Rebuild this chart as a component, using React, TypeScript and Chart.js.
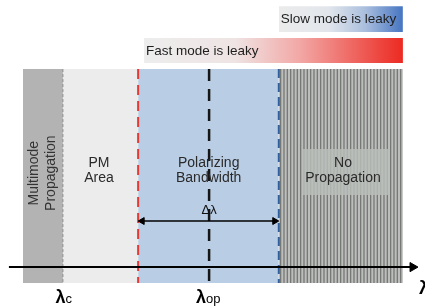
import React, { useEffect, useRef } from 'react';
import { Chart, registerables } from 'chart.js';

Chart.register(...registerables);

// ---- data (abstract wavelength units on x, abstract height units on y) ----
const regionLabels: string[][] = [
  ['Multimode', 'Propagation'],
  ['PM', 'Area'],
  ['Polarizing', 'Bandwidth'],
  ['No', 'Propagation'],
];
const regionStart = [5.4, 14.8, 32.5, 65.6];
const regionEnd = [14.8, 32.5, 65.6, 94.8];
const regionTop = 77.5;
const regionBottom = 7.8;
const regionLabelX = [10.1, 23.3, 49.1, 80.7];
const regionLabelY = 44.4;

const lambdaC = 14.8;
const bandStart = 32.5;
const lambdaOp = 49.2;
const bandEnd = 65.6;

const noPropBox = { x0: 71.3, x1: 91.3, top: 51.5, bottom: 36.5 };

const leakyLabels = ['Slow mode is leaky', 'Fast mode is leaky'];
const leakyStart = [65.6, 33.9];
const leakyEnd = [94.8, 94.8];
const leakyTop = [98.0, 87.6];
const leakyBottom = [89.6, 79.5];

const axisStart = 2.1;
const axisEnd = 97.1;
const axisY = 13.0;

const deltaY = 28.0;
const deltaLabelY = 31.6;

const tickNames = [['λ', 'c'], ['λ', 'op']];
const tickPositions = [lambdaC + 0.2, lambdaOp - 0.2];
const tickBaseline = 1.3;
const axisTitle = 'λ';
const axisTitleX = 98.6;
const axisTitleBaseline = 4.2;

// ---- styles ----
const FONT = '"Liberation Sans", Arial, sans-serif';
const regionColors = ['#b2b3b2', '#ececec', '#b9cde5', 'STRIPES'];

function makeStripes(): CanvasPattern | string {
  const c = document.createElement('canvas');
  c.width = 10;
  c.height = 4;
  const g = c.getContext('2d');
  if (!g) return '#9a9c9a';
  g.fillStyle = '#bcbebc';
  g.fillRect(0, 0, 10, 4);
  g.fillStyle = '#767876';
  [0, 3.33, 6.67].forEach((s) => g.fillRect(s, 0, 1.3, 4));
  const p = g.createPattern(c, 'repeat');
  return p || '#9a9c9a';
}

export default function App() {
  const ref = useRef<HTMLCanvasElement | null>(null);

  useEffect(() => {
    const canvas = ref.current;
    if (!canvas) return;
    const stripes = makeStripes();

    const rect = (x0: number, x1: number, top: number, bottom: number, color: any) => ({
      data: [
        { x: x0, y: top },
        { x: x1, y: top },
      ],
      showLine: true,
      fill: { value: bottom },
      backgroundColor: color,
      borderWidth: 0,
      borderColor: 'rgba(0,0,0,0)',
      pointRadius: 0,
      tension: 0,
    });

    const vline = (x: number, color: string, width: number, dash: number[]) => ({
      data: [
        { x, y: regionTop },
        { x, y: regionBottom },
      ],
      showLine: true,
      fill: false,
      borderColor: color,
      borderWidth: width,
      borderDash: dash,
      borderCapStyle: 'butt',
      pointRadius: 0,
    });

    const gradientFor = (i: number, stops: [number, string][]) => (ctx: any) => {
      const chart = ctx.chart;
      const area = chart.chartArea;
      if (!area) return stops[stops.length - 1][1];
      const xs = chart.scales.x;
      const g = chart.ctx.createLinearGradient(
        xs.getPixelForValue(leakyStart[i]), 0,
        xs.getPixelForValue(leakyEnd[i]), 0
      );
      stops.forEach(([o, c]) => g.addColorStop(o, c));
      return g;
    };

    const slowStops: [number, string][] = [
      [0, '#ebebeb'],
      [0.4, '#e2e6ec'],
      [0.7, '#a9bedd'],
      [1, '#4675c2'],
    ];
    const fastStops: [number, string][] = [
      [0, '#ededed'],
      [0.35, '#efe4e4'],
      [0.6, '#f2a8a6'],
      [1, '#ec2a22'],
    ];

    const datasets: any[] = [];
    regionStart.forEach((s, i) => {
      const col = regionColors[i] === 'STRIPES' ? stripes : regionColors[i];
      datasets.push(rect(s, regionEnd[i], regionTop, regionBottom, col));
    });
    datasets.push(rect(noPropBox.x0, noPropBox.x1, noPropBox.top, noPropBox.bottom, 'rgba(186,190,186,0.82)'));
    datasets.push(rect(leakyStart[0], leakyEnd[0], leakyTop[0], leakyBottom[0], gradientFor(0, slowStops)));
    datasets.push(rect(leakyStart[1], leakyEnd[1], leakyTop[1], leakyBottom[1], gradientFor(1, fastStops)));
    datasets.push(vline(lambdaC, '#8c8c8c', 1, [3, 2]));
    datasets.push(vline(bandStart, '#e23a36', 2, [10, 6]));
    datasets.push(vline(lambdaOp, '#161616', 2.5, [12, 8]));
    datasets.push(vline(bandEnd, '#2f5f9c', 2, [9, 5]));
    // delta-lambda double arrow
    datasets.push({
      data: [
        { x: bandStart + 0.95, y: deltaY },
        { x: bandEnd - 0.95, y: deltaY },
      ],
      showLine: true,
      fill: false,
      borderColor: '#000',
      borderWidth: 1.6,
      pointStyle: 'triangle',
      pointRadius: 4,
      pointRotation: [270, 90],
      pointBackgroundColor: '#000',
      pointBorderColor: '#000',
      pointBorderWidth: 1,
    });
    // wavelength axis
    datasets.push({
      data: [
        { x: axisStart, y: axisY },
        { x: axisEnd, y: axisY },
      ],
      showLine: true,
      fill: false,
      borderColor: '#000',
      borderWidth: 2,
      pointStyle: 'triangle',
      pointRadius: [0, 5.3],
      pointRotation: [0, 90],
      pointBackgroundColor: '#000',
      pointBorderColor: '#000',
      pointBorderWidth: 1,
    });
    const N = datasets.length;
    datasets.forEach((d, i) => (d.order = N - i));

    const textPlugin = {
      id: 'diagramText',
      afterDatasetsDraw(chart: any) {
        const c = chart.ctx as CanvasRenderingContext2D;
        const X = (v: number) => chart.scales.x.getPixelForValue(v);
        const Y = (v: number) => chart.scales.y.getPixelForValue(v);
        c.save();
        c.fillStyle = '#2a2a2a';
        c.textBaseline = 'middle';
        c.textAlign = 'center';
        c.font = `14px ${FONT}`;
        const lineGap = 7.5;
        regionLabels.forEach((lines, i) => {
          if (i === 0) {
            c.save();
            c.translate(X(regionLabelX[i]), Y(regionLabelY - 0.8));
            c.rotate(-Math.PI / 2);
            c.fillStyle = '#333';
            c.fillText(lines[0], 0, -8.5);
            c.fillText(lines[1], 0, 8.5);
            c.restore();
          } else {
            c.fillText(lines[0], X(regionLabelX[i]), Y(regionLabelY) - lineGap);
            c.fillText(lines[1], X(regionLabelX[i]), Y(regionLabelY) + lineGap);
          }
        });
        // leaky bars text
        c.textAlign = 'left';
        c.fillStyle = '#1e1e1e';
        c.font = `13.5px ${FONT}`;
        leakyLabels.forEach((t, i) => {
          c.fillText(t, X(leakyStart[i]) + 2, (Y(leakyTop[i]) + Y(leakyBottom[i])) / 2 + 0.5);
        });
        // delta lambda
        c.textAlign = 'center';
        c.font = `13px ${FONT}`;
        c.fillStyle = '#111';
        c.fillText('Δλ', X(lambdaOp), Y(deltaLabelY));
        // tick labels
        c.textBaseline = 'alphabetic';
        c.fillStyle = '#000';
        tickNames.forEach(([main, sub], i) => {
          c.font = `bold 18px ${FONT}`;
          const w1 = c.measureText(main).width;
          c.font = `13px ${FONT}`;
          const w2 = c.measureText(sub).width;
          const left = X(tickPositions[i]) - (w1 + w2) / 2;
          c.textAlign = 'left';
          c.font = `bold 18px ${FONT}`;
          c.fillText(main, left, Y(tickBaseline));
          c.font = `13px ${FONT}`;
          c.fillText(sub, left + w1, Y(tickBaseline));
        });
        c.font = `bold 19px ${FONT}`;
        c.textAlign = 'left';
        c.fillText(axisTitle, X(axisTitleX), Y(axisTitleBaseline));
        c.restore();
      },
    };

    const chart = new Chart(canvas, {
      type: 'scatter',
      data: { datasets },
      options: {
        animation: false,
        responsive: false,
        events: [],
        layout: { padding: 0, autoPadding: false },
        plugins: {
          legend: { display: false },
          tooltip: { enabled: false },
        },
        scales: {
          x: { type: 'linear', min: 0, max: 100, display: false },
          y: { type: 'linear', min: 0, max: 100, display: false },
        },
      },
      plugins: [textPlugin],
    } as any);

    return () => chart.destroy();
  }, []);

  return (
    <div style={{ position: 'absolute', left: 0, top: 0, width: 425, height: 307, background: '#fff' }}>
      <canvas ref={ref} width={425} height={307} style={{ display: 'block' }} />
    </div>
  );
}
